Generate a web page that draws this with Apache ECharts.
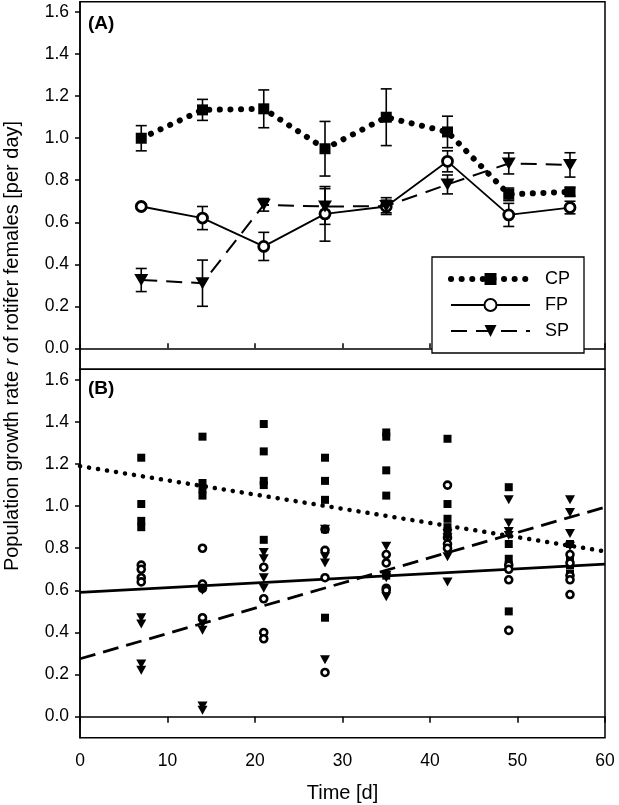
<!DOCTYPE html>
<html>
<head>
<meta charset="utf-8">
<script src="https://cdn.jsdelivr.net/npm/echarts@6/dist/echarts.min.js"></script>
<style>
html,body{margin:0;padding:0;background:#fff;}
#chart{width:619px;height:805px;}
</style>
</head>
<body>
<div id="chart"></div>
<script>
// ---- data ----
const days = [7, 14, 21, 28, 35, 42, 49, 56];
const xTicks = [0, 10, 20, 30, 40, 50, 60];
const yTicks = [0, 0.2, 0.4, 0.6, 0.8, 1.0, 1.2, 1.4, 1.6];

// Panel A: means and standard errors
const cpMean = [1.00, 1.135, 1.14, 0.95, 1.10, 1.03, 0.733, 0.745];
const cpErr  = [0.06, 0.05, 0.09, 0.13, 0.135, 0.075, 0.03, 0.02];
const fpMean = [0.675, 0.62, 0.485, 0.64, 0.675, 0.89, 0.635, 0.67];
const fpErr  = [0.01, 0.055, 0.067, 0.13, 0.03, 0.05, 0.055, 0.03];
const spMean = [0.325, 0.31, 0.683, 0.675, 0.677, 0.78, 0.88, 0.873];
const spErr  = [0.055, 0.11, 0.03, 0.085, 0.04, 0.045, 0.05, 0.058];

// Panel B: replicate values per day
const cpReps = [
  [1.23, 1.01, 0.93, 0.90],
  [1.33, 1.11, 1.08, 1.05],
  [1.39, 1.26, 1.12, 1.10, 0.84],
  [1.23, 1.12, 1.03, 0.89, 0.47],
  [1.35, 1.33, 1.17, 1.05, 0.67],
  [1.32, 1.01, 0.94, 0.90, 0.88],
  [1.09, 0.82, 0.75, 0.72, 0.50],
  [0.82, 0.76, 0.72, 0.68]
];
const fpReps = [
  [0.72, 0.70, 0.66, 0.64],
  [0.80, 0.63, 0.61, 0.47],
  [0.71, 0.56, 0.40, 0.37],
  [0.89, 0.79, 0.66, 0.21],
  [0.77, 0.73, 0.61, 0.60],
  [1.10, 0.85, 0.82, 0.80],
  [0.72, 0.70, 0.65, 0.41],
  [0.77, 0.73, 0.67, 0.65, 0.58]
];
const spReps = [
  [0.47, 0.44, 0.25, 0.22],
  [0.60, 0.44, 0.41, 0.05, 0.03],
  [0.78, 0.75, 0.66, 0.61],
  [0.89, 0.76, 0.73, 0.27],
  [0.81, 0.67, 0.66, 0.57],
  [0.87, 0.85, 0.76, 0.64],
  [1.03, 0.92, 0.88, 0.86],
  [1.03, 0.97, 0.87, 0.81]
];
// Panel B: regression line endpoints
const fitX  = [0, 60];
const cpFit = [1.19, 0.785];
const fpFit = [0.59, 0.725];
const spFit = [0.275, 0.995];

// ---- chart ----
const FONT = 'Liberation Sans, Arial, sans-serif';
const chart = echarts.init(document.getElementById('chart'), null, {renderer: 'canvas'});

function pairs(xs, ys) { return xs.map((x, i) => [x, ys[i]]); }
function flatReps(reps) {
  const out = [];
  reps.forEach((arr, i) => arr.forEach(v => out.push([days[i], v])));
  return out;
}
function errSeries(means, errs) {
  return {
    type: 'custom', xAxisIndex: 0, yAxisIndex: 0, silent: true, z: 1,
    data: days.map((d, i) => [d, means[i], errs[i]]),
    encode: {x: 0, y: 1},
    renderItem: function (params, api) {
      const x = api.value(0), m = api.value(1), e = api.value(2);
      const t = api.coord([x, m + e]), b = api.coord([x, m - e]);
      const cw = 5.5;
      const st = {stroke: '#000', lineWidth: 1.6};
      return {type: 'group', children: [
        {type: 'line', shape: {x1: t[0], y1: t[1], x2: b[0], y2: b[1]}, style: st},
        {type: 'line', shape: {x1: t[0] - cw, y1: t[1], x2: t[0] + cw, y2: t[1]}, style: st},
        {type: 'line', shape: {x1: b[0] - cw, y1: b[1], x2: b[0] + cw, y2: b[1]}, style: st}
      ]};
    }
  };
}

const axisCommonY = {
  type: 'value', min: -0.1, max: 1.65,
  axisLine: {show: true, onZero: false, lineStyle: {color: '#000', width: 1.5}},
  axisTick: {show: true, length: 5, lineStyle: {color: '#000', width: 1.5}, customValues: yTicks},
  axisLabel: {color: '#000', fontSize: 17.5, fontFamily: FONT, margin: 11, customValues: yTicks,
    formatter: v => v.toFixed(1)},
  splitLine: {show: false}
};

const cpLine = {color: '#000', width: 6, type: [0.1, 10.5], cap: 'round'};
const fpLine = {color: '#000', width: 1.8, type: 'solid'};
const spLine = {color: '#000', width: 2, type: [16, 9]};

const option = {
  backgroundColor: '#fff',
  animation: false,
  grid: [
    {left: 80, top: 1.7, width: 525, height: 367.6, show: true, borderColor: '#000', borderWidth: 1.5, backgroundColor: 'transparent'},
    {left: 80, top: 369.3, width: 525, height: 368.4, show: true, borderColor: '#000', borderWidth: 1.5, backgroundColor: 'transparent'}
  ],
  xAxis: [
    {type: 'value', gridIndex: 0, min: 0, max: 60, interval: 10,
      axisLine: {show: true, lineStyle: {color: '#000', width: 1.5}},
      axisTick: {show: true, inside: true, length: 5, lineStyle: {color: '#000', width: 1.5}, customValues: xTicks},
      axisLabel: {show: false}, splitLine: {show: false}},
    {type: 'value', gridIndex: 1, min: 0, max: 60, interval: 10,
      axisLine: {show: true, lineStyle: {color: '#000', width: 1.5}},
      axisTick: {show: true, length: 6, lineStyle: {color: '#000', width: 1.5}, customValues: xTicks},
      axisLabel: {color: '#000', fontSize: 17.5, fontFamily: FONT, margin: 14, customValues: xTicks},
      splitLine: {show: false},
      name: 'Time [d]', nameLocation: 'middle', nameGap: 46,
      nameTextStyle: {color: '#000', fontSize: 20, fontFamily: FONT}}
  ],
  yAxis: [
    Object.assign({gridIndex: 0}, axisCommonY),
    Object.assign({gridIndex: 1}, axisCommonY)
  ],
  legend: {
    data: [
      {name: 'CP', lineStyle: cpLine},
      {name: 'FP', lineStyle: fpLine},
      {name: 'SP', lineStyle: spLine}
    ],
    orient: 'vertical', left: 432, top: 257,
    padding: [13, 14, 13, 16],
    itemWidth: 79, itemHeight: 15, itemGap: 8,
    borderColor: '#000', borderWidth: 1.3, backgroundColor: '#fff',
    textStyle: {color: '#000', fontSize: 18, fontFamily: FONT, padding: [0, 0, 0, 10]},
    selectedMode: false
  },
  graphic: [
    {type: 'text', left: 88, top: 14, style: {text: '(A)', font: 'bold 19px ' + FONT, fill: '#000'}},
    {type: 'text', left: 88, top: 379, style: {text: '(B)', font: 'bold 19px ' + FONT, fill: '#000'}},
    {type: 'text', x: 12, y: 346, rotation: Math.PI / 2,
      style: {
        text: '{a|Population growth rate }{i|r}{a| of rotifer females [per day]}',
        align: 'center', verticalAlign: 'middle',
        rich: {
          a: {fontSize: 20, fontFamily: FONT, fill: '#000', color: '#000'},
          i: {fontSize: 20, fontFamily: FONT, fontStyle: 'italic', fill: '#000', color: '#000'}
        }
      }}
  ],
  series: [
    // Panel A error bars
    errSeries(fpMean, fpErr),
    errSeries(spMean, spErr),
    errSeries(cpMean, cpErr),
    // Panel A lines
    {name: 'FP', type: 'line', xAxisIndex: 0, yAxisIndex: 0, z: 3,
      data: pairs(days, fpMean), symbol: 'circle', symbolSize: 10,
      itemStyle: {color: '#fff', borderColor: '#000', borderWidth: 2.8},
      lineStyle: fpLine},
    {name: 'SP', type: 'line', xAxisIndex: 0, yAxisIndex: 0, z: 4,
      data: pairs(days, spMean), symbol: 'triangle', symbolSize: [14, 12], symbolRotate: 180,
      itemStyle: {color: '#000', borderWidth: 0},
      lineStyle: spLine},
    {name: 'CP', type: 'line', xAxisIndex: 0, yAxisIndex: 0, z: 5,
      data: pairs(days, cpMean), symbol: 'rect', symbolSize: 11,
      itemStyle: {color: '#000', borderWidth: 0},
      lineStyle: cpLine},
    // Panel B regression lines
    {name: 'CP fit', type: 'line', xAxisIndex: 1, yAxisIndex: 1, z: 2, symbol: 'none',
      data: pairs(fitX, cpFit), lineStyle: {color: '#000', width: 4.5, type: [0.1, 9], cap: 'round'}},
    {name: 'FP fit', type: 'line', xAxisIndex: 1, yAxisIndex: 1, z: 2, symbol: 'none',
      data: pairs(fitX, fpFit), lineStyle: {color: '#000', width: 2.8, type: 'solid'}},
    {name: 'SP fit', type: 'line', xAxisIndex: 1, yAxisIndex: 1, z: 2, symbol: 'none',
      data: pairs(fitX, spFit), lineStyle: {color: '#000', width: 2.8, type: [16, 8]}},
    // Panel B replicates
    {name: 'CP reps', type: 'scatter', xAxisIndex: 1, yAxisIndex: 1, z: 3,
      data: flatReps(cpReps), symbol: 'rect', symbolSize: 8,
      itemStyle: {color: '#000', opacity: 1}},
    {name: 'FP reps', type: 'scatter', xAxisIndex: 1, yAxisIndex: 1, z: 3,
      data: flatReps(fpReps), symbol: 'circle', symbolSize: 7,
      itemStyle: {color: '#fff', borderColor: '#000', borderWidth: 2.6, opacity: 1}},
    {name: 'SP reps', type: 'scatter', xAxisIndex: 1, yAxisIndex: 1, z: 3,
      data: flatReps(spReps), symbol: 'triangle', symbolSize: [10, 9], symbolRotate: 180,
      itemStyle: {color: '#000', opacity: 1}}
  ]
};
chart.setOption(option);
</script>
</body>
</html>
